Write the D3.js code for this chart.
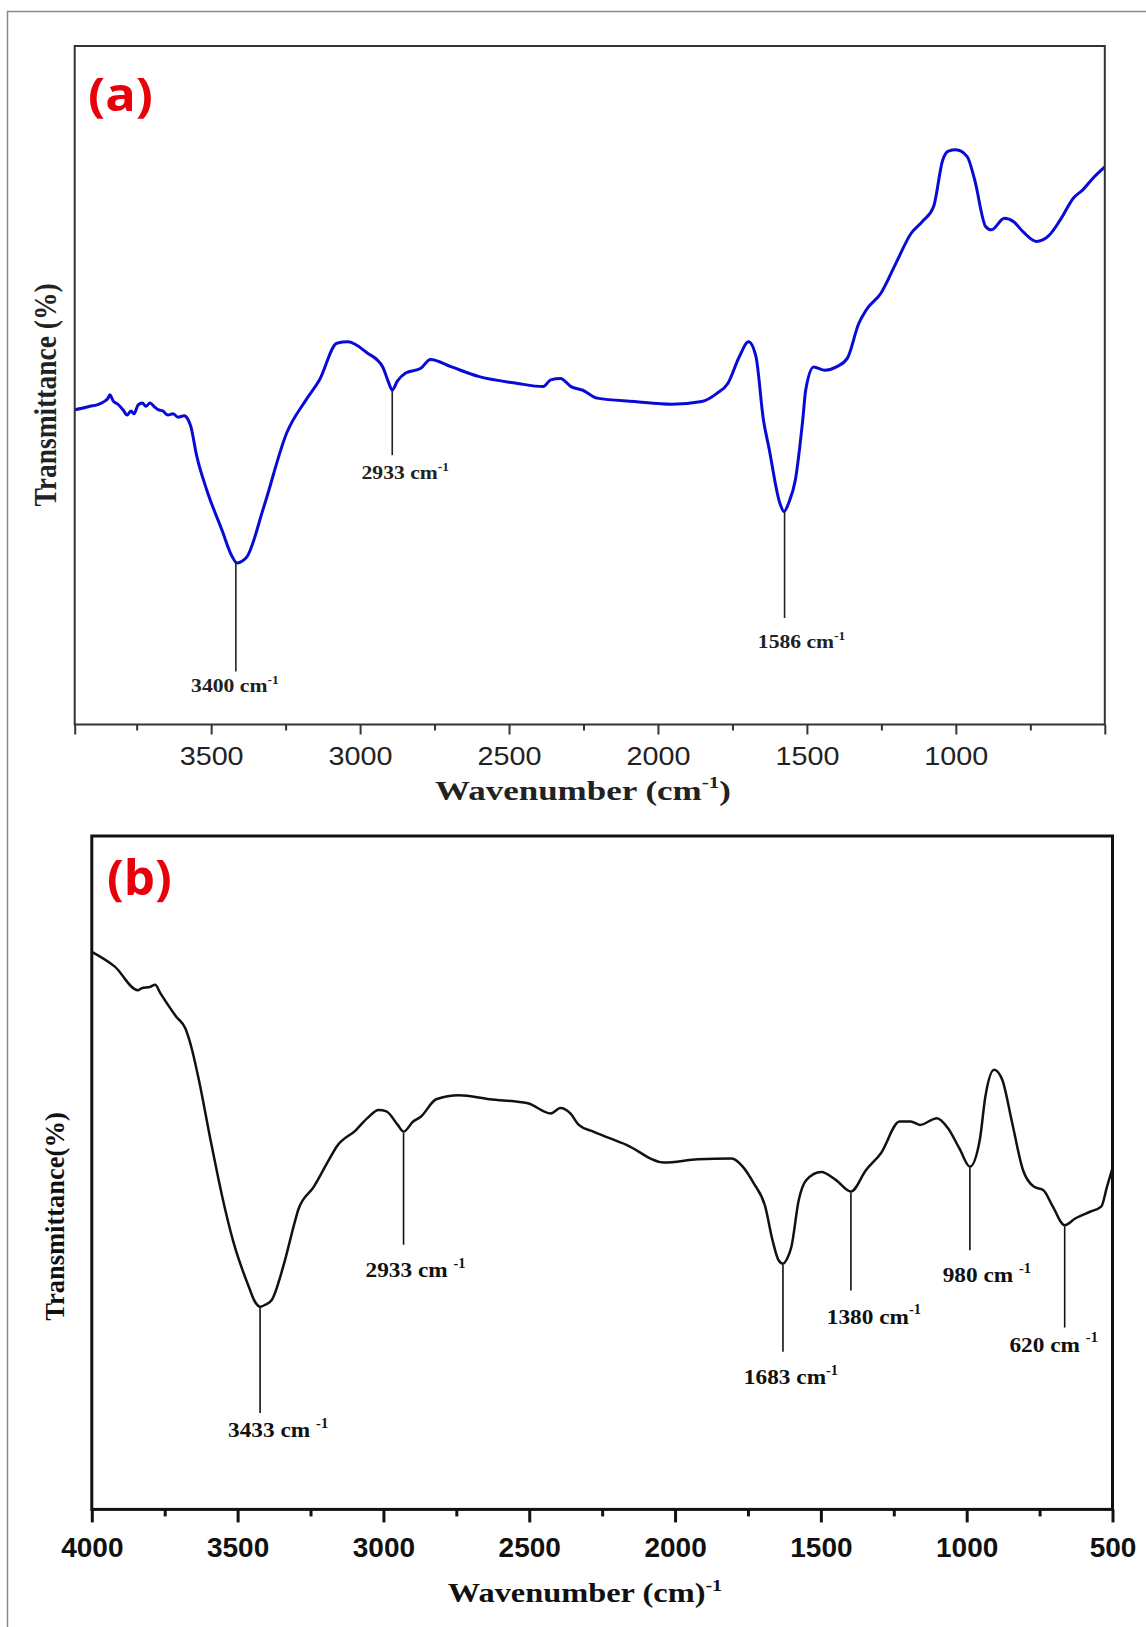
<!DOCTYPE html>
<html><head><meta charset="utf-8">
<script src="https://cdn.jsdelivr.net/npm/d3@7"></script>
<style>body{margin:0;background:#fff;} svg{display:block;}</style>
</head><body>
<svg id="c" width="1146" height="1627"></svg>
<script>
// ---------- Panel (a) data: wavenumber (cm-1) and transmittance (arb. %) ----------
const wnA = [3958,3933,3907,3883,3863,3846,3840,3829,3813,3796,3782,3769,3759,3745,3731,3719,3705,3692,3678,3662,3645,3628,3611,3591,3578,3568,3549,3515,3464,3430,3413,3395,3380,3323,3246,3182,3136,3078,3041,2977,2924,2905,2892,2875,2847,2796,2764,2693,2603,2475,2385,2360,2327,2292,2254,2204,2079,1953,1853,1802,1765,1727,1696,1671,1646,1628,1590,1577,1560,1539,1514,1504,1477,1440,1401,1364,1326,1301,1251,1201,1150,1113,1075,1044,1025,1000,962,937,900,881,837,806,774,730,687,649,605,574,536,500];
const trA = [46.4,46.6,46.9,47.1,47.5,48.1,48.6,47.7,47.2,46.4,45.6,46.2,45.8,47.1,47.4,46.9,47.4,46.9,46.4,46.2,45.6,45.8,45.3,45.5,45.0,43.9,39.7,34.6,28.7,24.8,23.8,24.1,24.7,32.1,43.0,47.8,50.8,56.2,56.4,54.8,52.7,50.5,49.3,50.6,51.8,52.5,53.8,52.7,51.3,50.3,49.8,50.8,51.0,49.8,49.3,48.1,47.6,47.2,47.6,48.8,50.3,54.2,56.4,54.2,44.9,40.9,32.5,31.4,32.8,36.0,44.9,49.3,52.7,52.2,52.7,54.0,59.1,61.1,63.6,68.0,72.4,74.1,76.3,83.2,84.5,84.7,83.7,80.3,73.4,72.9,74.6,74.1,72.6,71.2,72.1,74.4,77.6,78.8,80.7,82.2];
const majorTicksA = [3500,3000,2500,2000,1500,1000];
const minorTicksA = [3750,3250,2750,2250,1750,1250,750];
const peakLabelsA = ["3400","2933","1586"];
const peakWnA = [3417,2892,1575];
const peakLineEndA = [7.8,39.7,15.7];

// ---------- Panel (b) data ----------
const wnB = [4000,3921,3842,3829,3800,3783,3764,3711,3679,3659,3633,3593,3554,3515,3462,3440,3423,3405,3383,3344,3305,3292,3239,3187,3160,3095,3055,3016,2990,2951,2931,2898,2872,2819,2741,2636,2505,2426,2393,2359,2330,2280,2165,2037,1922,1806,1768,1730,1691,1666,1645,1630,1615,1601,1576,1550,1499,1448,1397,1345,1294,1230,1192,1160,1102,1064,1025,989,955,936,906,878,846,807,769,737,705,664,628,577,538,519,500];
const trB = [82.8,80.6,77.1,77.4,77.6,77.9,76.6,73.2,71.4,68.7,63.8,54.9,46.7,39.8,33.1,30.8,30.1,30.4,31.1,36.0,42.5,44.5,47.9,51.9,53.9,56.3,58.1,59.3,59.1,57.1,56.1,57.6,58.3,60.9,61.5,60.9,60.3,58.8,59.6,58.8,57.1,56.1,54.1,51.5,52.0,52.1,50.9,48.4,45.0,40.0,37.0,36.5,37.3,39.0,45.9,48.9,50.1,48.9,47.2,50.4,52.9,57.6,57.6,57.1,58.1,56.6,53.6,50.9,54.9,61.3,65.3,63.8,57.8,50.4,47.9,47.4,45.0,42.2,43.2,44.2,45.0,47.9,50.7];
const majorTicksB = [4000,3500,3000,2500,2000,1500,1000,500];
const minorTicksB = [3750,3250,2750,2250,1750,1250,750];
const peakLabelsB = ["3433","2933","1683","1380","980","620"];
const peakWnB = [3423,2931,1630,1397,989,664];
const peakLineEndB = [14.3,39.3,23.4,32.5,38.5,27.0];
const peakSupGapB = [" "," ","",""," "," "];

// ---------- layout (positions / styles) ----------
const LA = {x0:74.7, x1:1104.8, y0:46, y1:724.5};
const LB = {x0:91.8, x1:1112.5, y0:836, y1:1509.4};
const labelOffA = {dx:[-1,13,17], dy:[20,24,30]};
const labelOffB = {dx:[18,12,8,23,17,-11], dy:[24,32,32,33,32,24]};

const svg = d3.select("#c");
svg.append("rect").attr("width",1146).attr("height",1627).attr("fill","#fff");
svg.append("path").attr("d","M7.5,1627V11.5H1146").attr("fill","none")
  .attr("stroke","#8a8a8a").attr("stroke-width",1.5);

function interp(wn, tr, w){
  for(let i=0;i<wn.length-1;i++){
    if((wn[i]-w)*(wn[i+1]-w)<=0){
      const t=(w-wn[i])/(wn[i+1]-wn[i]); return tr[i]+t*(tr[i+1]-tr[i]);
    }
  }
  return tr[tr.length-1];
}

function supText(g, x, y, sx, size, family, weight, fill, main, gap, anchor){
  const t = g.append("text")
    .attr("transform",`translate(${x},${y}) scale(${sx},1)`)
    .attr("text-anchor",anchor||"middle")
    .attr("font-family",family).attr("font-weight",weight)
    .attr("font-size",size).attr("fill",fill);
  t.append("tspan").text(main + gap);
  t.append("tspan").attr("font-size",size*0.62).attr("dy",-size*0.42).text("-1");
  return t;
}

function panel(o){
  const g = svg.append("g");
  const x = d3.scaleLinear().domain(o.xDomain).range([o.L.x0,o.L.x1]);
  const y = d3.scaleLinear().domain([0,100]).range([o.L.y1,o.L.y0]);

  // minor ticks
  const gm = g.append("g").attr("transform",`translate(0,${o.L.y1})`)
    .call(d3.axisBottom(x).tickValues(o.minor).tickSize(o.minorLen).tickFormat(""));
  gm.select(".domain").remove();
  gm.selectAll("line").attr("stroke",o.frameColor).attr("stroke-width",o.tickW);
  // major ticks
  const ga = g.append("g").attr("transform",`translate(0,${o.L.y1})`)
    .call(d3.axisBottom(x).tickValues(o.major).tickSize(o.majorLen).tickPadding(o.tickPad).tickFormat(d3.format("d")));
  ga.select(".domain").remove();
  ga.selectAll("line").attr("stroke",o.frameColor).attr("stroke-width",o.tickW);
  ga.selectAll("text").attr("font-family",o.tickFont).attr("font-weight",o.tickWeight)
    .attr("font-size",o.tickSize).attr("fill",o.textColor)
    .attr("transform",`scale(${o.tickSx},1)`);
  if(o.edgeTicks){
    const ge = g.append("g").attr("transform",`translate(0,${o.L.y1})`)
      .call(d3.axisBottom(x).tickValues(x.domain()).tickSize(o.majorLen).tickFormat(""));
    ge.select(".domain").remove();
    ge.selectAll("line").attr("stroke",o.frameColor).attr("stroke-width",o.tickW);
  }

  // curve
  const pts = o.wn.map((w,i)=>[w,o.tr[i]]);
  g.append("path").datum(pts)
    .attr("d", d3.line().x(d=>x(d[0])).y(d=>y(d[1])).curve(d3.curveMonotoneX))
    .attr("fill","none").attr("stroke",o.lineColor).attr("stroke-width",o.lineW)
    .attr("stroke-linejoin","round");

  // annotations
  o.pLabels.forEach((lab,i)=>{
    const px = x(o.pWn[i]);
    const yTop = y(interp(o.wn,o.tr,o.pWn[i]));
    const yEnd = y(o.pEnd[i]);
    g.append("line").attr("x1",px).attr("x2",px).attr("y1",yTop+1).attr("y2",yEnd)
      .attr("stroke",o.annColor).attr("stroke-width",o.annW);
    supText(g, px+o.off.dx[i], yEnd+o.off.dy[i], o.annSx, o.annSize,
      "'Liberation Serif','Times New Roman',serif","bold",o.annColor, lab+" cm", o.gaps?o.gaps[i]:"");
  });

  // frame
  g.append("rect").attr("x",o.L.x0).attr("y",o.L.y0)
    .attr("width",o.L.x1-o.L.x0).attr("height",o.L.y1-o.L.y0)
    .attr("fill","none").attr("stroke",o.frameColor).attr("stroke-width",o.frameW);
  return {g,x,y};
}

panel({L:LA, xDomain:[3958,500], major:majorTicksA, minor:minorTicksA,
  majorLen:10, minorLen:6, tickPad:12.5, tickW:2, edgeTicks:true,
  tickFont:"'Liberation Sans',Arial,sans-serif", tickWeight:"normal", tickSize:25, tickSx:1.15,
  textColor:"#222", frameColor:"#333", frameW:2,
  wn:wnA, tr:trA, lineColor:"#0a0ad6", lineW:3,
  pLabels:peakLabelsA, pWn:peakWnA, pEnd:peakLineEndA, off:labelOffA,
  annColor:"#222", annW:1.6, annSize:18.5, annSx:1.17});

panel({L:LB, xDomain:[4000,500], major:majorTicksB, minor:minorTicksB,
  majorLen:13, minorLen:7, tickPad:14.3, tickW:3, edgeTicks:false,
  tickFont:"'Liberation Sans',Arial,sans-serif", tickWeight:"bold", tickSize:28, tickSx:1,
  textColor:"#111", frameColor:"#111", frameW:3,
  wn:wnB, tr:trB, lineColor:"#111", lineW:2.5,
  pLabels:peakLabelsB, pWn:peakWnB, pEnd:peakLineEndB, off:labelOffB, gaps:peakSupGapB,
  annColor:"#111", annW:1.6, annSize:22, annSx:1.06});

// axis titles
const serif = "'Liberation Serif','Times New Roman',serif";
(function(){
  const F=28;
  const t = svg.append("text").attr("transform","translate(583,800) scale(1.25,1)")
    .attr("text-anchor","middle").attr("font-family",serif).attr("font-weight","bold")
    .attr("font-size",F).attr("fill","#222");
  t.append("tspan").text("Wavenumber (cm");
  t.append("tspan").attr("font-size",F*0.6).attr("dy",-F*0.42).text("-1");
  t.append("tspan").attr("font-size",F).attr("dy",F*0.42).text(")");
})();
supText(svg, 585, 1602, 1.2, 27, serif, "bold", "#111", "Wavenumber (cm)", "", "middle");

svg.append("text").attr("transform","translate(56,395) scale(1.15,1) rotate(-90)")
  .attr("text-anchor","middle").attr("font-family",serif).attr("font-weight","bold")
  .attr("font-size",27.5).attr("fill","#222").text("Transmittance (%)");
svg.append("text").attr("transform","translate(64,1216.5) rotate(-90)")
  .attr("text-anchor","middle").attr("font-family",serif).attr("font-weight","bold")
  .attr("font-size",26.5).attr("fill","#111").text("Transmittance(%)");

// panel letters
svg.append("text").attr("transform","translate(88,111) scale(1.1,1)")
  .attr("font-family","'Open Sans',sans-serif").attr("font-weight","bold")
  .attr("font-size",46).attr("fill","#e8000b").text("(a)");
svg.append("text").attr("transform","translate(107,895) scale(1.03,1)")
  .attr("font-family","'Open Sans',sans-serif").attr("font-weight","bold")
  .attr("font-size",48).attr("fill","#e8000b").text("(b)");
</script>
</body></html>
